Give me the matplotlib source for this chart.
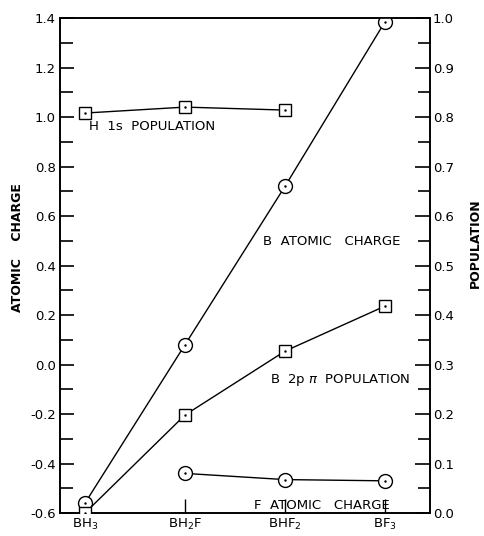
import matplotlib
matplotlib.use("Agg")
from matplotlib import pyplot as plt
from matplotlib.ticker import MultipleLocator, FormatStrFormatter

plt.rcParams['font.family'] = ['DejaVu Sans']
plt.rcParams['axes.unicode_minus'] = False

# data
molecules = [r'BH$_3$', r'BH$_2$F', r'BHF$_2$', r'BF$_3$']
x = [0, 1, 2, 3]

# atomic charge (left axis)
b_charge = [-0.56, 0.08, 0.72, 1.385]
f_charge = [-0.44, -0.465, -0.47]   # BH2F, BHF2, BF3

# population (right axis)
h1s_pop = [0.808, 0.82, 0.814]        # BH3, BH2F, BHF2
b2p_pop = [0.0, 0.198, 0.327, 0.418]

fig = plt.figure(figsize=(4.85, 5.36), dpi=100)
ax = fig.add_axes([0.1237, 0.0429, 0.7629, 0.9235])
ax2 = ax.twinx()

lw = 1.0
# circles for charges
ax.plot(x, b_charge, '-', c='black', lw=lw, marker='o', ms=10, mfc='white', mec='black', mew=1.0, zorder=3)
ax.plot(x[1:], f_charge, '-', c='black', lw=lw, marker='o', ms=10, mfc='white', mec='black', mew=1.0, zorder=3)
ax.plot(x, b_charge, '.', c='black', ms=1.5, zorder=4)
ax.plot(x[1:], f_charge, '.', c='black', ms=1.5, zorder=4)

# squares for populations
ax2.plot(x[:3], h1s_pop, '-', c='black', lw=lw, marker='s', ms=8, mfc='white', mec='black', mew=1.0, zorder=3)
ax2.plot(x, b2p_pop, '-', c='black', lw=lw, marker='s', ms=8, mfc='white', mec='black', mew=1.0, zorder=3)
ax2.plot(x[:3], h1s_pop, '.', c='black', ms=1.5, zorder=4)
ax2.plot(x, b2p_pop, '.', c='black', ms=1.5, zorder=4)

ax.set_xlim(-0.25, 3.45)
ax.set_ylim(-0.6, 1.4)
ax2.set_ylim(0.0, 1.0)

for s in ax.spines.values():
    s.set_linewidth(1.2)
for s in ax2.spines.values():
    s.set_linewidth(1.2)

ax.yaxis.set_major_locator(MultipleLocator(0.2))
ax.yaxis.set_minor_locator(MultipleLocator(0.1))
ax.yaxis.set_major_formatter(FormatStrFormatter('%.1f'))
ax.tick_params(axis='y', which='major', direction='in', length=10, width=1.2, labelsize=9.5, pad=3)
ax.tick_params(axis='y', which='minor', direction='in', length=9, width=1.2)

ax2.yaxis.set_major_locator(MultipleLocator(0.1))
ax2.yaxis.set_minor_locator(MultipleLocator(0.05))
ax2.yaxis.set_major_formatter(FormatStrFormatter('%.1f'))
ax2.tick_params(axis='y', which='major', direction='in', length=11, width=1.2, labelsize=9.5, pad=2)
ax2.tick_params(axis='y', which='minor', direction='in', length=9, width=1.2)

ax.set_xticks(x)
ax.set_xticklabels(molecules)
ax.tick_params(axis='x', direction='in', length=10, width=1.0, labelsize=9.5, pad=3)

# axis titles
fig.text(18 / 485, 1 - 248 / 536, 'ATOMIC    CHARGE', fontsize=9, fontweight='bold',
         rotation=90, ha='center', va='center')
fig.text(475 / 485, 1 - 243 / 536, 'POPULATION', fontsize=9, fontweight='bold',
         rotation=90, ha='center', va='center')

# curve labels
ax.text(0.67, 0.96, 'H  1s  POPULATION', fontsize=9.5, ha='center', va='center')
ax.text(2.47, 0.495, 'B  ATOMIC   CHARGE', fontsize=9.5, ha='center', va='center')
ax.text(2.55, -0.063, r'B  2p $\pi$  POPULATION', fontsize=9.5, ha='center', va='center')
ax.text(2.37, -0.568, 'F  ATOMIC   CHARGE', fontsize=9.5, ha='center', va='center')

fig.savefig('out.png', dpi=100)
